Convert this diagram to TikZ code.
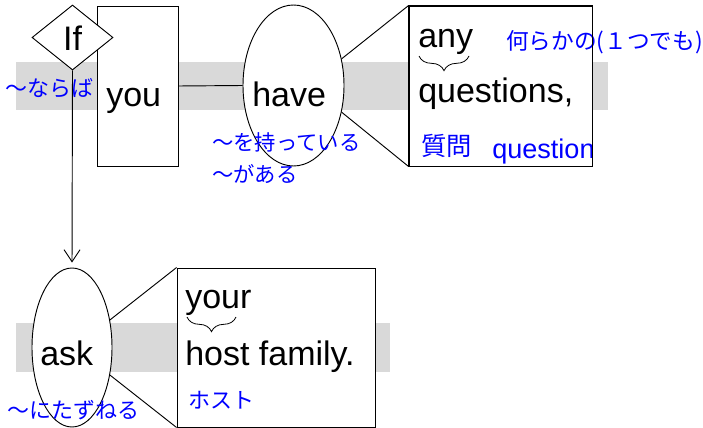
\documentclass[tikz,border=0pt]{standalone}
\usepackage{fontspec}
\setmainfont{Liberation Sans}
\newfontfamily\jpfont{Noto Sans CJK JP}
\usetikzlibrary{shapes.geometric,arrows.meta,decorations.pathreplacing}
\definecolor{bandgray}{HTML}{D9D9D9}
\definecolor{jpblue}{HTML}{0000FF}
\begin{document}
\begin{tikzpicture}[x=0.75pt,y=-0.75pt,
  band/.style={fill=bandgray,draw=none},
  shp/.style={draw,fill=white,line width=0.7pt,inner sep=0pt},
  en/.style={font=\fontsize{25.5}{30}\selectfont,inner sep=0pt},
  jl/.style={font=\jpfont\fontsize{16.5}{20}\selectfont,text=jpblue,inner sep=0pt},
  ln/.style={line width=0.7pt},
  brc/.style={decorate,decoration={brace,mirror,amplitude=11pt},line width=0.6pt}]
\useasboundingbox (0,0) rectangle (703,428);
% bands
\fill[band] (16,62) rectangle (608,110);
\fill[band] (16,323) rectangle (390,372);
% shapes
\node[shp,rectangle,minimum width=60.75pt,minimum height=120pt] (you) at (137.5,86) {};
\node[shp,diamond,minimum width=60.75pt,minimum height=48.75pt] (if) at (72.5,37.5) {};
\node[shp,ellipse,minimum width=75.75pt,minimum height=120.75pt] (have) at (293.5,85.5) {};
\node[shp,rectangle,minimum width=137.25pt,minimum height=120pt] (qbox) at (500.5,86) {};
\node[shp,ellipse,minimum width=60pt,minimum height=119.25pt] (ask) at (72,347.5) {};
\node[shp,rectangle,minimum width=148.5pt,minimum height=119.25pt] (host) at (276,347.5) {};
% connectors
\draw[ln] (you.east) -- (have.west);
\draw[ln] (have.29) -- (qbox.north west);
\draw[ln] (have.-29) -- (qbox.south west);
\draw[ln] (ask.36) -- (host.north west);
\draw[ln] (ask.-36) -- (host.south west);
\draw[ln,-{Straight Barb[length=9pt,width=12pt]},shorten >=3.75pt] (if.south) -- (ask.north);
% black text
\node[en] (tif) at (72.5,38) {If};
\node[en,anchor=base west] (tyou) at (106,106) {you};
\node[en,anchor=base west] (thave) at (252,106) {have};
\node[en,anchor=base west] (tany) at (418,48) {any};
\node[en,anchor=base west] (tq) at (418,103) {questions,};
\node[en,anchor=base west] (tyour) at (185,308) {your};
\node[en,anchor=base west] (thost) at (185,365) {host family.};
\node[en,anchor=base west] (task) at (40,365) {ask};
% braces
\draw[brc] (419,56) -- (469,56);
\draw[brc] (187,317) -- (236,317);
% blue text
\node[jl,anchor=west] (jnaraba) at (5,88) {～ならば};
\node[jl,anchor=west,font=\jpfont\fontsize{16}{20}\selectfont] (jmotte) at (212,142) {～を持っている};
\node[jl,anchor=west,font=\jpfont\fontsize{16}{20}\selectfont] (jga) at (212,174) {～がある};
\node[jl,anchor=west,font=\jpfont\fontsize{17}{20}\selectfont] (jnani) at (506,42) {何らかの(１つでも)};
\node[jl,anchor=west,font=\jpfont\fontsize{19}{22}\selectfont] (jshitsu) at (421,146) {質問};
\node[jl,anchor=base west,font=\fontsize{20.3}{24}\selectfont] (jq) at (492,158) {question};
\node[jl,anchor=west] (jhost) at (188,400) {ホスト};
\node[jl,anchor=west] (jtazu) at (7,410) {～にたずねる};
% box outline drawn over the labels
\draw[ln] (qbox.north west) rectangle (qbox.south east);
\end{tikzpicture}
\end{document}
